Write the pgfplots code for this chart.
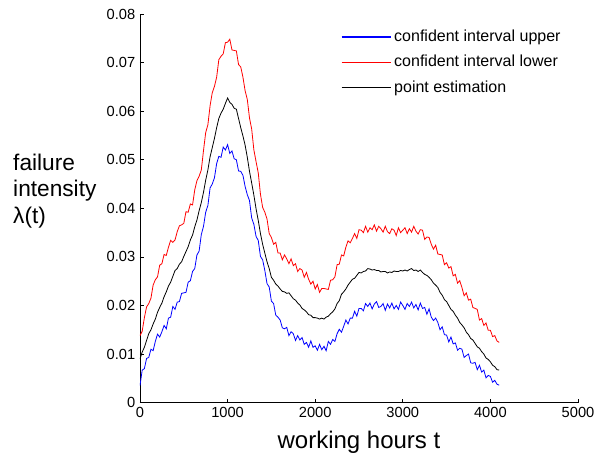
\documentclass[border=0pt]{standalone}
\usepackage{fontspec}
\setmainfont{Liberation Sans}
\usepackage{pgfplots}
\usepackage{pgfplotstable}
\pgfplotsset{compat=1.18}
\usetikzlibrary{calc}

% t, upper (blue), lower (red), point estimate (black)
\pgfplotstableread{
t up lo pe
0 0.0035 0.0138 0.0090
25 0.0067 0.0147 0.0104
50 0.0070 0.0175 0.0114
75 0.0091 0.0197 0.0128
100 0.0093 0.0204 0.0142
125 0.0110 0.0215 0.0150
150 0.0107 0.0242 0.0162
175 0.0126 0.0253 0.0172
200 0.0141 0.0259 0.0186
225 0.0135 0.0283 0.0196
250 0.0146 0.0286 0.0205
275 0.0159 0.0305 0.0218
300 0.0152 0.0303 0.0228
325 0.0174 0.0320 0.0240
350 0.0176 0.0334 0.0248
375 0.0198 0.0330 0.0260
400 0.0192 0.0335 0.0272
425 0.0207 0.0352 0.0276
450 0.0208 0.0364 0.0285
475 0.0225 0.0366 0.0290
500 0.0226 0.0369 0.0301
525 0.0227 0.0393 0.0311
550 0.0248 0.0392 0.0321
575 0.0251 0.0409 0.0335
600 0.0270 0.0407 0.0345
625 0.0276 0.0438 0.0362
650 0.0304 0.0457 0.0376
675 0.0312 0.0466 0.0395
700 0.0346 0.0479 0.0412
725 0.0363 0.0519 0.0433
750 0.0392 0.0556 0.0458
775 0.0406 0.0572 0.0479
800 0.0442 0.0611 0.0506
825 0.0450 0.0638 0.0525
850 0.0463 0.0651 0.0544
875 0.0492 0.0670 0.0566
900 0.0507 0.0706 0.0585
925 0.0505 0.0713 0.0596
950 0.0526 0.0718 0.0604
975 0.0520 0.0741 0.0616
1000 0.0531 0.0742 0.0627
1025 0.0513 0.0748 0.0618
1050 0.0518 0.0726 0.0614
1075 0.0502 0.0725 0.0606
1100 0.0500 0.0724 0.0604
1125 0.0477 0.0696 0.0585
1150 0.0476 0.0691 0.0566
1175 0.0468 0.0670 0.0549
1200 0.0445 0.0642 0.0530
1225 0.0428 0.0624 0.0505
1250 0.0416 0.0586 0.0476
1275 0.0380 0.0563 0.0452
1300 0.0367 0.0520 0.0427
1325 0.0342 0.0496 0.0399
1350 0.0334 0.0473 0.0375
1375 0.0301 0.0429 0.0348
1400 0.0294 0.0402 0.0326
1425 0.0272 0.0392 0.0308
1450 0.0245 0.0378 0.0290
1475 0.0238 0.0348 0.0276
1500 0.0209 0.0340 0.0258
1525 0.0204 0.0326 0.0252
1550 0.0180 0.0330 0.0244
1575 0.0176 0.0308 0.0240
1600 0.0170 0.0308 0.0234
1625 0.0154 0.0294 0.0229
1650 0.0152 0.0304 0.0228
1675 0.0155 0.0296 0.0225
1700 0.0138 0.0286 0.0226
1725 0.0146 0.0296 0.0220
1750 0.0142 0.0282 0.0214
1775 0.0128 0.0286 0.0211
1800 0.0138 0.0270 0.0205
1825 0.0129 0.0276 0.0201
1850 0.0134 0.0273 0.0194
1875 0.0120 0.0258 0.0191
1900 0.0124 0.0268 0.0187
1925 0.0114 0.0254 0.0181
1950 0.0127 0.0244 0.0180
1975 0.0114 0.0250 0.0175
2000 0.0117 0.0234 0.0175
2025 0.0108 0.0243 0.0174
2050 0.0120 0.0227 0.0172
2075 0.0109 0.0235 0.0174
2100 0.0116 0.0235 0.0172
2125 0.0107 0.0234 0.0176
2150 0.0126 0.0233 0.0178
2175 0.0120 0.0252 0.0183
2200 0.0130 0.0253 0.0187
2225 0.0126 0.0259 0.0193
2250 0.0142 0.0284 0.0204
2275 0.0151 0.0285 0.0210
2300 0.0145 0.0304 0.0223
2325 0.0157 0.0302 0.0228
2350 0.0170 0.0320 0.0234
2375 0.0162 0.0333 0.0242
2400 0.0174 0.0329 0.0248
2425 0.0174 0.0338 0.0254
2450 0.0188 0.0348 0.0256
2475 0.0178 0.0338 0.0262
2500 0.0194 0.0356 0.0268
2525 0.0194 0.0355 0.0267
2550 0.0189 0.0350 0.0270
2575 0.0204 0.0363 0.0271
2600 0.0198 0.0351 0.0276
2625 0.0205 0.0360 0.0275
2650 0.0193 0.0356 0.0273
2675 0.0203 0.0366 0.0274
2700 0.0208 0.0353 0.0272
2725 0.0196 0.0363 0.0272
2750 0.0198 0.0358 0.0269
2775 0.0204 0.0351 0.0270
2800 0.0190 0.0363 0.0270
2825 0.0203 0.0352 0.0267
2850 0.0195 0.0348 0.0269
2875 0.0205 0.0358 0.0268
2900 0.0193 0.0355 0.0271
2925 0.0200 0.0344 0.0270
2950 0.0192 0.0360 0.0270
2975 0.0207 0.0350 0.0272
3000 0.0200 0.0355 0.0271
3025 0.0192 0.0360 0.0273
3050 0.0204 0.0348 0.0271
3075 0.0198 0.0358 0.0274
3100 0.0207 0.0351 0.0276
3125 0.0195 0.0363 0.0272
3150 0.0202 0.0353 0.0273
3175 0.0191 0.0347 0.0270
3200 0.0205 0.0356 0.0273
3225 0.0194 0.0355 0.0268
3250 0.0196 0.0336 0.0264
3275 0.0182 0.0341 0.0262
3300 0.0193 0.0340 0.0258
3325 0.0176 0.0326 0.0253
3350 0.0169 0.0316 0.0246
3375 0.0174 0.0324 0.0242
3400 0.0165 0.0306 0.0237
3425 0.0150 0.0305 0.0227
3450 0.0156 0.0304 0.0221
3475 0.0140 0.0284 0.0212
3500 0.0139 0.0288 0.0208
3525 0.0125 0.0277 0.0200
3550 0.0135 0.0280 0.0192
3575 0.0121 0.0261 0.0188
3600 0.0123 0.0264 0.0180
3625 0.0108 0.0246 0.0174
3650 0.0112 0.0251 0.0165
3675 0.0110 0.0237 0.0160
3700 0.0093 0.0220 0.0154
3725 0.0097 0.0226 0.0145
3750 0.0100 0.0211 0.0140
3775 0.0082 0.0213 0.0132
3800 0.0081 0.0196 0.0129
3825 0.0083 0.0194 0.0122
3850 0.0068 0.0192 0.0115
3875 0.0077 0.0170 0.0112
3900 0.0063 0.0173 0.0105
3925 0.0067 0.0159 0.0100
3950 0.0051 0.0164 0.0092
3975 0.0056 0.0149 0.0089
4000 0.0054 0.0149 0.0084
4025 0.0042 0.0136 0.0077
4050 0.0046 0.0138 0.0074
4075 0.0038 0.0127 0.0068
4100 0.0036 0.0124 0.0067
}\intensity

\begin{document}
\begin{tikzpicture}
\begin{axis}[
    scale only axis,
    width=328.5pt, height=291.5pt,
    xmin=0, xmax=5000,
    ymin=0, ymax=0.08,
    axis x line*=bottom,
    axis y line*=left,
    axis line style={-, line width=0.6pt},
    tick align=inside,
    major tick length=3pt,
    tick style={black, line width=0.6pt},
    xtick={0,1000,2000,3000,4000,5000},
    ytick={0,0.01,0.02,0.03,0.04,0.05,0.06,0.07,0.08},
    yticklabels={0,0.01,0.02,0.03,0.04,0.05,0.06,0.07,0.08},
    scaled x ticks=false,
    scaled y ticks=false,
    /pgf/number format/set thousands separator={},
    /pgf/number format/assume math mode=true,
    tick label style={font=\fontsize{11}{13}\selectfont},
    xlabel={working hours t},
    xlabel style={font=\fontsize{18}{20}\selectfont, yshift=-3pt},
    ylabel={failure\\intensity\\λ(t)},
    ylabel style={rotate=-90, align=left, anchor=west, inner sep=0pt,
        at={(axis description cs:-0.29,0.545)},
        font=\fontsize{17}{20}\selectfont},
    legend style={draw=none, fill=none, anchor=north west,
        at={(axis description cs:0.455,0.969)},
        font=\fontsize{12}{14}\selectfont, row sep=5pt,
        text height=8.5pt, text depth=2.5pt, inner sep=1pt},
    legend cell align=left,
    legend image code/.code={\draw[#1, line width=1pt] (0pt,0pt) -- (37pt,0pt);},
]
\addplot[draw=blue, line width=0.6pt, no marks] table[x=t, y=up] {\intensity};
\addlegendentry{confident interval upper}
\addplot[draw=red, line width=0.6pt, no marks] table[x=t, y=lo] {\intensity};
\addlegendentry{confident interval lower}
\addplot[draw=black, line width=0.6pt, no marks] table[x=t, y=pe] {\intensity};
\addlegendentry{point estimation}
\end{axis}
\pgfresetboundingbox
\useasboundingbox ($(current axis.south west)+(-105pt,-40.5pt)$) rectangle ($(current axis.north east)+(12.75pt,10.5pt)$);
\end{tikzpicture}
\end{document}
